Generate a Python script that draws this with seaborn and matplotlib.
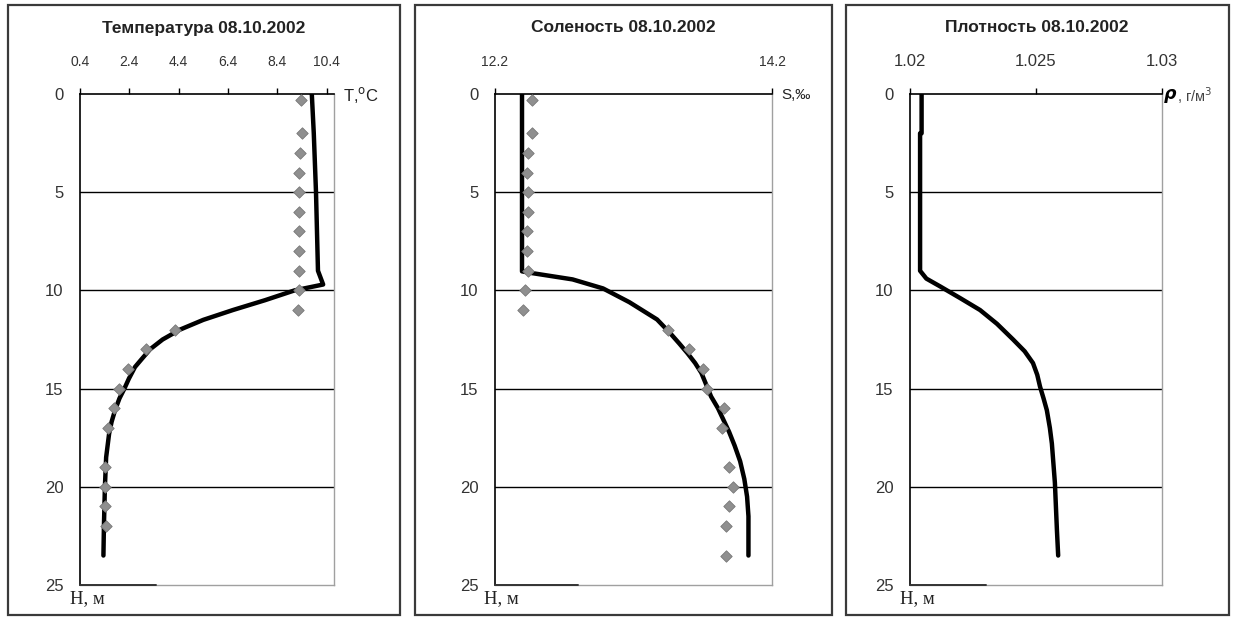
import numpy as np
import pandas as pd
import matplotlib
matplotlib.use("Agg")
import matplotlib.pyplot as plt
from matplotlib.patches import Rectangle
from matplotlib.lines import Line2D
import seaborn as sns

# ---------------- data ----------------
date_str = "08.10.2002"

# Temperature profile (line)
temp_line_depth = [0, 2, 5, 9.0, 9.7, 10.0, 10.5, 11.0, 11.5, 12.0, 12.5, 13.0, 13.5, 13.9, 14.5,
                   15.0, 15.5, 16.1, 16.7, 17.3, 18.5, 20.0, 22.0, 23.5]
temp_line_val   = [9.8, 9.88, 9.97, 10.05, 10.26, 9.1, 7.9, 6.6, 5.4, 4.45, 3.75, 3.24, 2.9, 2.63, 2.38,
                   2.2, 2.0, 1.82, 1.68, 1.58, 1.46, 1.41, 1.37, 1.35]
# Temperature observations (markers)
temp_obs_depth = [0.3, 2, 3, 4, 5, 6, 7, 8, 9, 10, 11, 12, 13, 14, 15, 16, 17, 19, 20, 21, 22]
temp_obs_val   = [9.36, 9.4, 9.33, 9.28, 9.28, 9.28, 9.28, 9.28, 9.28, 9.28, 9.24,
                  4.25, 3.08, 2.35, 1.98, 1.78, 1.54, 1.41, 1.41, 1.41, 1.45]

# Salinity profile (line)
sal_line_depth = [0, 5, 9.03, 9.1, 9.44, 9.9, 10.6, 11.48, 12.14, 12.7, 13.2, 13.7, 14.2, 14.8, 15.4,
                  16.0, 16.6, 17.2, 17.9, 18.7, 19.6, 20.5, 21.5, 23.5]
sal_line_val   = [12.395, 12.395, 12.395, 12.45, 12.76, 12.98, 13.17, 13.37, 13.46, 13.53, 13.59, 13.645,
                  13.69, 13.725, 13.76, 13.81, 13.85, 13.89, 13.93, 13.97, 14.0, 14.02, 14.03, 14.03]
# Salinity observations (markers)
sal_obs_depth = [0.3, 2, 3, 4, 5, 6, 7, 8, 9, 10, 11, 12, 13, 14, 15, 16, 17, 19, 20, 21, 22, 23.5]
sal_obs_val   = [12.47, 12.47, 12.44, 12.43, 12.44, 12.44, 12.43, 12.43, 12.44, 12.42, 12.40,
                 13.45, 13.60, 13.70, 13.73, 13.85, 13.84, 13.89, 13.92, 13.89, 13.87, 13.87]

# Density profile (line)
dens_line_depth = [0, 2.0, 2.0, 9.0, 9.4, 9.8, 10.4, 11.0, 11.7, 12.5, 13.1, 13.7, 14.3, 14.9, 15.5,
                   16.1, 17.0, 17.8, 19.8, 22.2, 23.5]
dens_line_val   = [1.02046, 1.02046, 1.0204, 1.0204, 1.02065, 1.0212, 1.0220, 1.02278, 1.02345, 1.02409,
                   1.02455, 1.02488, 1.02505, 1.02516, 1.0253, 1.02543, 1.02555, 1.02563, 1.02575,
                   1.02583, 1.02588]

depth_ticks = [0, 5, 10, 15, 20, 25]
temp_ticks = [0.4, 2.4, 4.4, 6.4, 8.4, 10.4]
sal_ticks = [12.2, 14.2]
dens_ticks = [1.02, 1.025, 1.03]

titles = ["Температура " + date_str, "Соленость " + date_str, "Плотность " + date_str]
depth_label = "H, м"

# ---------------- style ----------------
sns.set_style("white")
plt.rcParams["font.family"] = ["Liberation Sans", "DejaVu Sans"]

W, H = 1235, 617
fig = plt.figure(figsize=(W / 100, H / 100), dpi=100)


def fx(px):
    return px / W


def fy(py):
    return 1 - py / H


LINE_KW = dict(color="black", linewidth=3.2, sort=False, estimator=None, legend=False)
MARK_KW = dict(marker="D", s=34, color="#8f8f8f", edgecolor="#787878", linewidth=0.6, legend=False, zorder=4)

panels = [
    dict(box=(8, 5, 400, 615), ax=(80, 94, 334, 585)),
    dict(box=(415, 5, 832, 615), ax=(495, 94, 772, 585)),
    dict(box=(846, 5, 1229, 615), ax=(910, 94, 1162, 585)),
]

axes = []
for p in panels:
    x0, y0, x1, y1 = p["box"]
    fig.patches.append(Rectangle((fx(x0), fy(y1)), fx(x1 - x0), (y1 - y0) / H,
                                 transform=fig.transFigure, fill=False,
                                 edgecolor="#3a3a3a", linewidth=1.6, zorder=0))
    a0, b0, a1, b1 = p["ax"]
    ax = fig.add_axes([fx(a0), fy(b1), fx(a1 - a0), (b1 - b0) / H])
    axes.append(ax)

# Temperature
ax = axes[0]
df_tl = pd.DataFrame({"x": temp_line_val, "y": temp_line_depth})
df_to = pd.DataFrame({"x": temp_obs_val, "y": temp_obs_depth})
sns.scatterplot(data=df_to, x="x", y="y", ax=ax, **MARK_KW)
sns.lineplot(data=df_tl, x="x", y="y", ax=ax, **LINE_KW)
ax.set_xlim(0.4, 10.7)
ax.set_xticks(temp_ticks)
ax.set_xticklabels(["0.4", "2.4", "4.4", "6.4", "8.4", "10.4"])

# Salinity
ax = axes[1]
df_sl = pd.DataFrame({"x": sal_line_val, "y": sal_line_depth})
df_so = pd.DataFrame({"x": sal_obs_val, "y": sal_obs_depth})
sns.scatterplot(data=df_so, x="x", y="y", ax=ax, **MARK_KW)
sns.lineplot(data=df_sl, x="x", y="y", ax=ax, **LINE_KW)
ax.set_xlim(12.2, 14.2)
ax.set_xticks(sal_ticks)
ax.set_xticklabels(["12.2", "14.2"])

# Density
ax = axes[2]
df_dl = pd.DataFrame({"x": dens_line_val, "y": dens_line_depth})
sns.lineplot(data=df_dl, x="x", y="y", ax=ax, **LINE_KW)
ax.set_xlim(1.02, 1.03)
ax.set_xticks(dens_ticks)
ax.set_xticklabels(["1.02", "1.025", "1.03"])

xlab_sizes = [10, 10, 12]
for i, ax in enumerate(axes):
    ax.set_ylim(25, 0)
    ax.set_yticks(depth_ticks)
    ax.set_yticklabels([str(t) for t in depth_ticks])
    ax.set_xlabel("")
    ax.set_ylabel("")
    ax.xaxis.set_ticks_position("top")
    ax.xaxis.set_label_position("top")
    ax.tick_params(axis="x", direction="out", length=4, width=1, color="black",
                   labelsize=xlab_sizes[i], labelcolor="#333333", pad=14)
    ax.tick_params(axis="y", direction="out", length=4, width=1, color="black",
                   labelsize=12, labelcolor="#333333", pad=8)
    for t in [5, 10, 15, 20]:
        ax.axhline(t, color="black", linewidth=1.0, zorder=1)
    ax.spines["top"].set_color("black")
    ax.spines["top"].set_linewidth(1.2)
    ax.spines["left"].set_color("black")
    ax.spines["left"].set_linewidth(1.2)
    ax.spines["right"].set_color("#a0a0a0")
    ax.spines["right"].set_linewidth(1.0)
    ax.spines["bottom"].set_color("#a0a0a0")
    ax.spines["bottom"].set_linewidth(1.0)
    ax.add_line(Line2D([0, 0.3], [0, 0], transform=ax.transAxes, color="#333333",
                       linewidth=1.4, clip_on=False, zorder=5))
    ax.text(-0.04, -0.01, depth_label, transform=ax.transAxes, ha="left", va="top",
            fontsize=13.5, family=["Liberation Serif", "DejaVu Serif"], color="#222222")

# Titles
title_x = [204, 623, 1037]
for tx, tt in zip(title_x, titles):
    fig.text(fx(tx), fy(28), tt, ha="center", va="center", fontsize=12.5,
             fontweight="bold", color="#222222")

# Axis unit labels at right end of top axis
fig.text(fx(343), fy(95), "T,$^{\\mathrm{o}}$C", ha="left", va="center", fontsize=12, color="#222222")
fig.text(fx(781), fy(95), "S,‰", ha="left", va="center", fontsize=11, color="#222222")
fig.text(fx(1163), fy(96), r"$\boldsymbol{\rho}$", ha="left", va="center", fontsize=12.5, color="black")
fig.text(fx(1177), fy(96), ", г/м$^{3}$", ha="left", va="center", fontsize=10.5, color="#444444")

fig.savefig("out.png", dpi=100, facecolor="white")
